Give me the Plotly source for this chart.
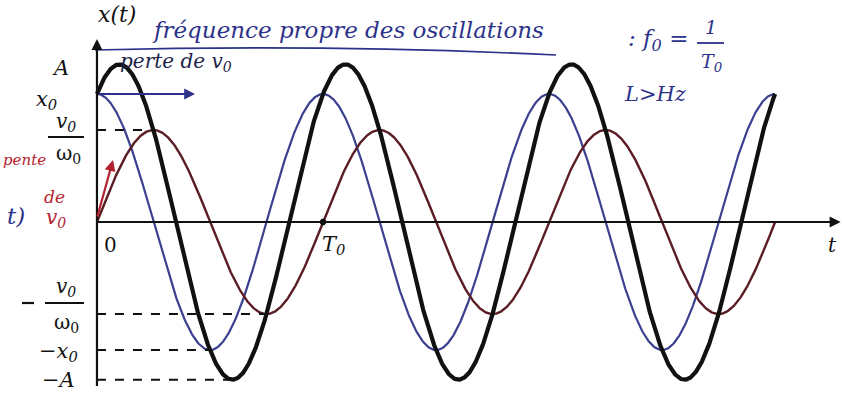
import numpy as np
import plotly.graph_objects as go

# Free harmonic oscillator: x(t) = x0 cos(w0 t) + (v0/w0) sin(w0 t) = A cos(w0 t - phi)
T0 = 1.0
x0 = 1.28          # initial position
v0_over_w0 = 0.92  # v0 / omega0
n_periods = 3

omega0 = 2 * np.pi / T0
A = np.hypot(x0, v0_over_w0)
phi = np.arctan2(v0_over_w0, x0)

t = np.linspace(0, n_periods * T0, 1200)
x_pos = x0 * np.cos(omega0 * t)
x_vel = v0_over_w0 * np.sin(omega0 * t)
x_tot = A * np.cos(omega0 * t - phi)

# times of the first extrema used for the dashed guide lines
t_vel_max = T0 / 4
t_vel_min = 3 * T0 / 4
t_pos_min = T0 / 2
t_tot_min = (np.pi + phi) / omega0

X_RANGE = [-0.429, 3.296]
Y_RANGE = [-1.83, 2.22]
W, H = 842, 405


def px(u):
    """horizontal page pixel -> time coordinate"""
    return X_RANGE[0] + u / W * (X_RANGE[1] - X_RANGE[0])


def py(v):
    """vertical page pixel -> x coordinate"""
    return Y_RANGE[1] - v / H * (Y_RANGE[1] - Y_RANGE[0])


BLUE_INK = "#2c3289"
RED_INK = "#b3212e"
SERIF = "DejaVu Serif"

fig = go.Figure()
fig.add_trace(go.Scatter(x=t, y=x_pos, mode="lines",
                         line=dict(color="#3b408f", width=2.2), hoverinfo="skip"))
fig.add_trace(go.Scatter(x=t, y=x_vel, mode="lines",
                         line=dict(color="#5b1d24", width=2.4), hoverinfo="skip"))
fig.add_trace(go.Scatter(x=t, y=x_tot, mode="lines",
                         line=dict(color="#111111", width=4.2), hoverinfo="skip"))

shapes = []
# time axis and x axis
shapes.append(dict(type="line", x0=0, x1=3.27, y0=0, y1=0,
                   line=dict(color="#111", width=2.2)))
shapes.append(dict(type="line", x0=0, x1=0, y0=-1.64, y1=1.78,
                   line=dict(color="#111", width=2.2)))
# dashed guides
dash = dict(color="#111", width=2, dash="dash")
shapes.append(dict(type="line", x0=0, x1=t_vel_max, y0=v0_over_w0, y1=v0_over_w0, line=dash))
shapes.append(dict(type="line", x0=0, x1=t_vel_min, y0=-v0_over_w0, y1=-v0_over_w0, line=dash))
shapes.append(dict(type="line", x0=0, x1=t_pos_min, y0=-x0, y1=-x0, line=dash))
shapes.append(dict(type="line", x0=0, x1=t_tot_min, y0=-A, y1=-A, line=dash))


def hline(u0, u1, v, color="#111", width=2.2):
    shapes.append(dict(type="line", x0=px(u0), x1=px(u1), y0=py(v), y1=py(v),
                       line=dict(color=color, width=width)))


# fraction bars of the v0/w0 tick labels and the minus sign
hline(48, 84, 137)
hline(45, 84, 303)
hline(22, 34, 303)
# fraction bar of f0 = 1/T0
hline(697, 724, 43, color=BLUE_INK, width=1.8)
# underline of the handwritten note
shapes.append(dict(type="path",
                   path=f"M {px(95)},{py(50)} Q {px(330)},{py(44)} {px(556)},{py(55)}",
                   line=dict(color=BLUE_INK, width=1.6)))
# marker at T0 on the time axis
shapes.append(dict(type="circle", x0=T0 - 0.012, x1=T0 + 0.012, y0=-0.03, y1=0.03,
                   fillcolor="#111", line=dict(color="#111", width=1)))

ann = []


def label(u, v, text, size=22, color="#111", italic=True, xanchor="center"):
    ann.append(dict(x=px(u), y=py(v), xref="x", yref="y", text=text, showarrow=False,
                    xanchor=xanchor, yanchor="middle",
                    font=dict(family=SERIF, size=size, color=color,
                              style="italic" if italic else "normal")))


def arrow(x, y, ax, ay, color="#111", width=2.2, size=1.0):
    ann.append(dict(x=x, y=y, ax=ax, ay=ay, xref="x", yref="y", axref="x", ayref="y",
                    text="", showarrow=True, arrowhead=2, arrowsize=size,
                    arrowwidth=width, arrowcolor=color))


# axis arrows
arrow(3.29, 0, 3.2, 0)
arrow(0, 1.83, 0, 1.7)

# axis labels
label(117, 14, "x(t)", size=22)
label(832, 245, "t", size=20)
label(110, 245, "0", size=20, italic=False)
label(333, 245, "T<sub>0</sub>", size=21)

# tick labels on the x axis
label(60, 68, "A", size=21)
label(46, 100, "x<sub>0</sub>", size=21)
label(66, 122, "v<sub>0</sub>", size=20)
label(68, 154, "ω<sub>0</sub>", size=20, italic=False)
label(66, 287, "v<sub>0</sub>", size=20)
label(66, 323, "ω<sub>0</sub>", size=20, italic=False)
label(58, 352, "−x<sub>0</sub>", size=21)
label(58, 380, "−A", size=21)

# handwritten notes
label(150, 30, "fréquence propre des oscillations", size=23, color=BLUE_INK, xanchor="left")
label(690, 40, ": f<sub>0</sub> =", size=23, color=BLUE_INK, xanchor="right")
label(711, 27, "1", size=19, color=BLUE_INK)
label(712, 62, "T<sub>0</sub>", size=19, color=BLUE_INK)
label(622, 94, "L>Hz", size=21, color=BLUE_INK, xanchor="left")
label(118, 62, "perte de v<sub>0</sub>", size=20, color="#1d1f4a", xanchor="left")
arrow(px(195), x0, 0.0, x0, color=BLUE_INK, width=1.8, size=1.2)
label(24, 160, "pente", size=15, color=RED_INK)
label(54, 197, "de", size=17, color=RED_INK)
label(56, 218, "v<sub>0</sub>", size=20, color=RED_INK)
label(16, 216, "t)", size=23, color=BLUE_INK)
arrow(px(113), py(160), 0.0, 0.04, color=RED_INK, width=2.2, size=1.0)

fig.update_layout(
    width=W, height=H,
    margin=dict(l=0, r=0, t=0, b=0),
    paper_bgcolor="white", plot_bgcolor="white",
    showlegend=False,
    xaxis=dict(range=X_RANGE, visible=False, fixedrange=True),
    yaxis=dict(range=Y_RANGE, visible=False, fixedrange=True),
    shapes=shapes, annotations=ann,
)

fig.write_html("out.html")
